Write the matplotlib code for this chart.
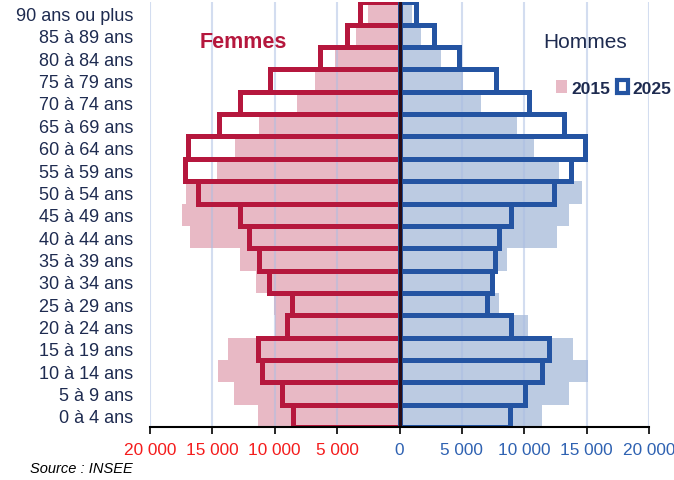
import matplotlib
matplotlib.use("Agg")
import matplotlib.pyplot as plt
from matplotlib.patches import Patch
import numpy as np

plt.rcParams['font.family'] = ['Liberation Sans', 'DejaVu Sans']

ages = ["0 à 4 ans", "5 à 9 ans", "10 à 14 ans", "15 à 19 ans", "20 à 24 ans",
        "25 à 29 ans", "30 à 34 ans", "35 à 39 ans", "40 à 44 ans", "45 à 49 ans",
        "50 à 54 ans", "55 à 59 ans", "60 à 64 ans", "65 à 69 ans", "70 à 74 ans",
        "75 à 79 ans", "80 à 84 ans", "85 à 89 ans", "90 ans ou plus"]

femmes_2015 = [11350, 13300, 14550, 13750, 9950, 10100, 11500, 12750, 16800, 17400,
               17100, 14600, 13150, 11250, 8250, 6800, 5150, 3450, 2500]
femmes_2025 = [8550, 9400, 11000, 11350, 9000, 8650, 10450, 11250, 12100, 12750,
               16150, 17200, 16950, 14450, 12800, 10350, 6350, 4200, 3200]
hommes_2015 = [11400, 13600, 15100, 13900, 10300, 7950, 7600, 8600, 12600, 13600,
               14600, 12750, 10800, 9450, 6500, 5100, 3300, 1750, 1000]
hommes_2025 = [8850, 10050, 11400, 12000, 8900, 7050, 7450, 7650, 8000, 8950,
               12400, 13750, 14900, 13150, 10350, 7700, 4800, 2750, 1350]

xticks = [-20000, -15000, -10000, -5000, 0, 5000, 10000, 15000, 20000]
xticklabels = ["20 000", "15 000", "10 000", "5 000", "0", "5 000", "10 000", "15 000", "20 000"]

pink = '#e8b9c5'
crimson = '#b5173d'
lightblue = '#bccbe2'
blue = '#2454a2'
navy = '#1e2b50'

fig = plt.figure(figsize=(6.74, 4.81), dpi=100)
ax = fig.add_axes([150/674, (481-428)/481, (649-150)/674, (428-3.4)/481])

y = np.arange(len(ages))
fem15 = -np.array(femmes_2015)
fem25 = -np.array(femmes_2025)

ax.barh(y, fem15, height=1.0, color=pink, zorder=1)
ax.barh(y, hommes_2015, height=1.0, color=lightblue, zorder=1)

for xv in xticks:
    if xv != 0:
        ax.axvline(xv, color='#a9bde3', alpha=0.5, lw=1.5, zorder=2)

ax.barh(y, fem25, height=1.0, facecolor='none', edgecolor=crimson, lw=3.6, zorder=3)
ax.barh(y, hommes_2025, height=1.0, facecolor='none', edgecolor=blue, lw=3.6, zorder=3)

ax.axvline(0, color='#2a0d15', lw=2.3, zorder=5)

ax.set_xlim(-20000, 20000)
ax.set_ylim(-0.5, len(ages) - 0.5)

ax.set_yticks(y)
ax.set_yticklabels(ages, fontsize=13, color=navy)
ax.tick_params(axis='y', length=0, pad=12)

ax.set_xticks(xticks)
ax.set_xticklabels(xticklabels, fontsize=12.4)
for lbl, xv in zip(ax.get_xticklabels(), xticks):
    lbl.set_color('#f41c1c' if xv < 0 else '#2f62b2')
ax.tick_params(axis='x', length=5, width=1.2, pad=6, color='black')

for s in ['left', 'right', 'top']:
    ax.spines[s].set_visible(False)
ax.spines['bottom'].set_color('black')
ax.spines['bottom'].set_linewidth(1.5)
ax.spines['bottom'].set_zorder(6)

ax.text(-12500, 16.73, "Femmes", color=crimson, fontsize=15.5, fontweight='bold',
        ha='center', va='center')
ax.text(14900, 16.77, "Hommes", color=navy, fontsize=15, ha='center', va='center')

handles = [Patch(facecolor=pink, edgecolor='none', label='2015'),
           Patch(facecolor='white', edgecolor=blue, lw=3, label='2025')]
leg = ax.legend(handles=handles, loc='center', bbox_to_anchor=(0.929, 0.798),
                ncol=2, frameon=False, handlelength=0.65, handleheight=0.75,
                handletextpad=0.25, columnspacing=0.4, borderpad=0,
                prop={'weight': 'bold', 'size': 12.5})
for t in leg.get_texts():
    t.set_color(navy)

fig.text(30/674, 1 - 469/481, "Source : INSEE", fontsize=10.5, style='italic',
         color='black', va='center', ha='left')

fig.savefig("out.png", dpi=100)
